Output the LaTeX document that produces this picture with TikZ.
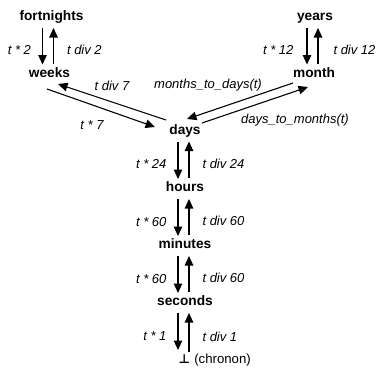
\documentclass[tikz,border=0pt]{standalone}
\usepackage{fontspec}
\setmainfont{Liberation Sans}
\newfontfamily\symfont{DejaVu Sans}
\usetikzlibrary{arrows.meta,calc}
\begin{document}
\begin{tikzpicture}[x=1pt,y=-1pt,
  unit/.style={font=\fontsize{13.7}{16}\selectfont\bfseries, inner sep=0pt, anchor=base},
  lbl/.style={font=\fontsize{13}{15}\selectfont\itshape, inner sep=0pt, text height=9pt, text depth=0pt},
  arr/.style={-{Triangle[length=9.5pt,width=8.5pt]}, line width=1.1pt}]
\useasboundingbox (0,0) rectangle (377,367);
\node[unit] (fortnights) at (51.5,20.5) {fortnights};
\node[unit] (weeks) at (49.5,77) {weeks};
\node[unit] (years) at (315,20.5) {years};
\node[unit] (month) at (314,77) {month};
\node[unit] (days) at (185,134) {days};
\node[unit] (hours) at (185,191.5) {hours};
\node[unit] (minutes) at (185,248.5) {minutes};
\node[unit] (seconds) at (185,305.5) {seconds};
\node[anchor=base west, inner sep=0pt, font=\fontsize{13.2}{15}\selectfont] (bot) at (178.5,363) {{\symfont\bfseries\fontsize{12.5}{14}\selectfont ⊥}\hspace{0.5pt} (chronon)};
% fortnights / weeks
\draw[arr] ($(weeks.base |- fortnights.base)+(-7,7.5)$) -- ($(weeks.base)+(-7,-12.5)$)
  node[lbl,midway,anchor=east,shift={(-11,4)}] {t * 2};
\draw[arr] ($(weeks.base)+(4,-13.5)$) -- ($(weeks.base |- fortnights.base)+(4,7.5)$)
  node[lbl,midway,anchor=west,shift={(13,4)}] {t div 2};
% years / month
\draw[arr] ($(month.base |- years.base)+(-7,7.5)$) -- ($(month.base)+(-7,-12.5)$)
  node[lbl,midway,anchor=east,shift={(-13,4)}] {t * 12};
\draw[arr] ($(month.base)+(4,-13.5)$) -- ($(month.base |- years.base)+(4,7.5)$)
  node[lbl,midway,anchor=west,shift={(15,4)}] {t div 12};
% days / hours
\draw[arr] ($(days.base)+(-7,7.5)$) -- ($(days.base |- hours.base)+(-7,-12.5)$)
  node[lbl,midway,anchor=east,shift={(-11,4)}] {t * 24};
\draw[arr] ($(days.base |- hours.base)+(4,-13.5)$) -- ($(days.base)+(4,7.5)$)
  node[lbl,midway,anchor=west,shift={(13,4)}] {t div 24};
% hours / minutes
\draw[arr] ($(hours.base)+(-7,7.5)$) -- ($(hours.base |- minutes.base)+(-7,-12.5)$)
  node[lbl,midway,anchor=east,shift={(-11,4)}] {t * 60};
\draw[arr] ($(hours.base |- minutes.base)+(4,-13.5)$) -- ($(hours.base)+(4,7.5)$)
  node[lbl,midway,anchor=west,shift={(13,4)}] {t div 60};
% minutes / seconds
\draw[arr] ($(minutes.base)+(-7,7.5)$) -- ($(minutes.base |- seconds.base)+(-7,-12.5)$)
  node[lbl,midway,anchor=east,shift={(-11,4)}] {t * 60};
\draw[arr] ($(minutes.base |- seconds.base)+(4,-13.5)$) -- ($(minutes.base)+(4,7.5)$)
  node[lbl,midway,anchor=west,shift={(13,4)}] {t div 60};
% seconds / chronon
\draw[arr] ($(seconds.base)+(-7,7.5)$) -- ($(seconds.base |- bot.base)+(-7,-13)$)
  node[lbl,midway,anchor=east,shift={(-11,4)}] {t * 1};
\draw[arr] ($(seconds.base |- bot.base)+(4,-11)$) -- ($(seconds.base)+(4,7.5)$)
  node[lbl,midway,anchor=west,shift={(13,4)}] {t div 1};
% weeks / days
\draw[arr] ($(weeks.base)+(-2.5,12)$) -- ($(days.base)+(-30,-7)$)
  node[lbl,midway,shift={(-9,17)}] {t * 7};
\draw[arr] ($(days.base)+(-19,-14)$) -- ($(weeks.base)+(8.5,7)$)
  node[lbl,midway,shift={(0,-16)}] {t div 7};
% month / days
\draw[arr] ($(month.base)+(-21,6)$) -- ($(days.base)+(2,-15)$)
  node[lbl,midway,shift={(-32,-17)}] {months\_to\_days(t)};
\draw[arr] ($(days.base)+(17,-11)$) -- ($(month.base)+(-6,10)$)
  node[lbl,midway,shift={(40,14)}] {days\_to\_months(t)};
\end{tikzpicture}
\end{document}
